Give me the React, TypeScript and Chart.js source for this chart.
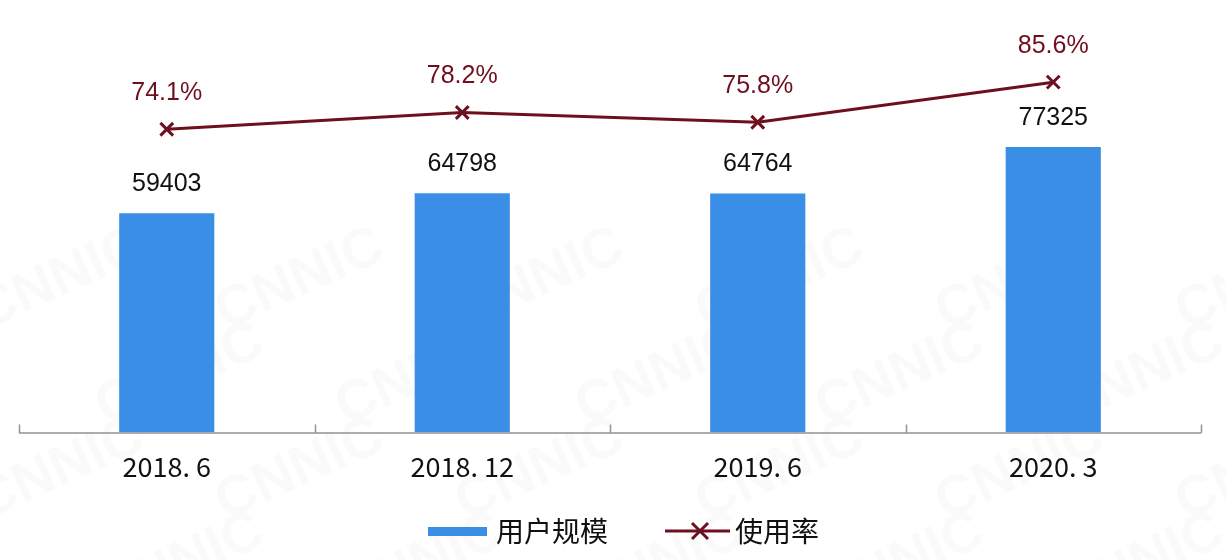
import React, { useEffect, useRef } from "react";
import { Chart, registerables } from "chart.js";

Chart.register(...registerables);

const categories = ["2018. 6", "2018. 12", "2019. 6", "2020. 3"];
const userScale = [59403, 64798, 64764, 77325];
const usageRate = [74.1, 78.2, 75.8, 85.6];
const seriesNames = ["用户规模", "使用率"];

const BAR_COLOR = "#3a8ee6";
const LINE_COLOR = "#6e0f1f";

const overlayPlugin = {
  id: "overlay",
  beforeDraw(chart: any) {
    const ctx = chart.ctx;
    ctx.save();
    ctx.fillStyle = "#ffffff";
    ctx.fillRect(0, 0, chart.width, chart.height);
    // faint watermark
    ctx.fillStyle = "rgba(120,120,120,0.035)";
    ctx.font = "bold 56px 'Liberation Sans', Arial, sans-serif";
    ctx.textAlign = "center";
    ctx.textBaseline = "middle";
    for (let row = 0; row < 4; row++) {
      for (let col = 0; col < 6; col++) {
        const x = 60 + col * 240 + (row % 2) * 120;
        const y = 280 + row * 95;
        ctx.save();
        ctx.translate(x, y);
        ctx.rotate(-0.42);
        ctx.fillText("CNNIC", 0, 0);
        ctx.restore();
      }
    }
    ctx.restore();
  },
  afterDatasetsDraw(chart: any) {
    const ctx = chart.ctx;
    const area = chart.chartArea;
    ctx.save();
    // axis line with upward ticks
    ctx.strokeStyle = "#8f949a";
    ctx.lineWidth = 1.5;
    ctx.beginPath();
    ctx.moveTo(area.left, area.bottom + 0.5);
    ctx.lineTo(area.right, area.bottom + 0.5);
    const n = categories.length;
    for (let i = 0; i <= n; i++) {
      const x = Math.round(area.left + ((area.right - area.left) * i) / n) + 0.5;
      ctx.moveTo(x, area.bottom + 0.5);
      ctx.lineTo(x, area.bottom - 8);
    }
    ctx.stroke();

    // bar value labels
    const barMeta = chart.getDatasetMeta(0);
    ctx.font = "25px 'Liberation Sans', Arial, sans-serif";
    ctx.textAlign = "center";
    ctx.textBaseline = "middle";
    ctx.fillStyle = "#111111";
    barMeta.data.forEach((el: any, i: number) => {
      ctx.fillText(String(userScale[i]), el.x, el.y - 29);
    });
    // line value labels
    const lineMeta = chart.getDatasetMeta(1);
    ctx.fillStyle = LINE_COLOR;
    lineMeta.data.forEach((el: any, i: number) => {
      ctx.fillText(usageRate[i].toFixed(1) + "%", el.x, el.y - 36);
    });

    // legend
    const ly = 531;
    ctx.fillStyle = BAR_COLOR;
    ctx.fillRect(428, ly - 4, 59, 9);
    ctx.fillStyle = "#111111";
    ctx.font = "28px 'Noto Sans CJK SC', sans-serif";
    ctx.textAlign = "left";
    ctx.fillText(seriesNames[0], 496, ly);

    ctx.strokeStyle = LINE_COLOR;
    ctx.lineWidth = 3;
    ctx.beginPath();
    ctx.moveTo(665, ly);
    ctx.lineTo(730, ly);
    ctx.stroke();
    ctx.beginPath();
    ctx.moveTo(692, ly - 8);
    ctx.lineTo(708, ly + 8);
    ctx.moveTo(708, ly - 8);
    ctx.lineTo(692, ly + 8);
    ctx.stroke();
    ctx.fillStyle = "#111111";
    ctx.fillText(seriesNames[1], 735, ly);
    ctx.restore();
  },
};

export default function App() {
  const canvasRef = useRef<HTMLCanvasElement | null>(null);

  useEffect(() => {
    if (!canvasRef.current) return;
    const chart = new Chart(canvasRef.current, {
      type: "bar",
      data: {
        labels: categories,
        datasets: [
          {
            type: "bar",
            label: seriesNames[0],
            data: userScale,
            backgroundColor: BAR_COLOR,
            yAxisID: "y",
            categoryPercentage: 1,
            barPercentage: 0.322,
            order: 2,
          },
          {
            type: "line",
            label: seriesNames[1],
            data: usageRate,
            borderColor: LINE_COLOR,
            backgroundColor: LINE_COLOR,
            borderWidth: 3,
            pointStyle: "crossRot",
            pointRadius: 9,
            pointBorderWidth: 3,
            pointBorderColor: LINE_COLOR,
            yAxisID: "y1",
            tension: 0,
            order: 1,
          },
        ] as any,
      },
      options: {
        responsive: false,
        maintainAspectRatio: false,
        animation: false,
        layout: { padding: { left: 19, right: 25, top: 22, bottom: 59 } },
        plugins: {
          legend: { display: false },
          tooltip: { enabled: false },
        },
        scales: {
          x: {
            display: true,
            grid: { display: false, drawTicks: false },
            border: { display: false },
            ticks: {
              font: { family: "'Noto Sans CJK SC', sans-serif", size: 27 },
              color: "#111111",
              padding: 18,
              maxRotation: 0,
              autoSkip: false,
            },
          },
          y: {
            display: false,
            min: 0,
            max: 111200,
          },
          y1: {
            display: false,
            position: "right",
            min: 0,
            max: 100.3,
          },
        },
      },
      plugins: [overlayPlugin],
    });
    return () => chart.destroy();
  }, []);

  return (
    <div style={{ position: "fixed", left: 0, top: 0, width: 1226, height: 560, background: "#fff" }}>
      <canvas ref={canvasRef} width={1226} height={560} style={{ width: 1226, height: 560, display: "block" }} />
    </div>
  );
}
